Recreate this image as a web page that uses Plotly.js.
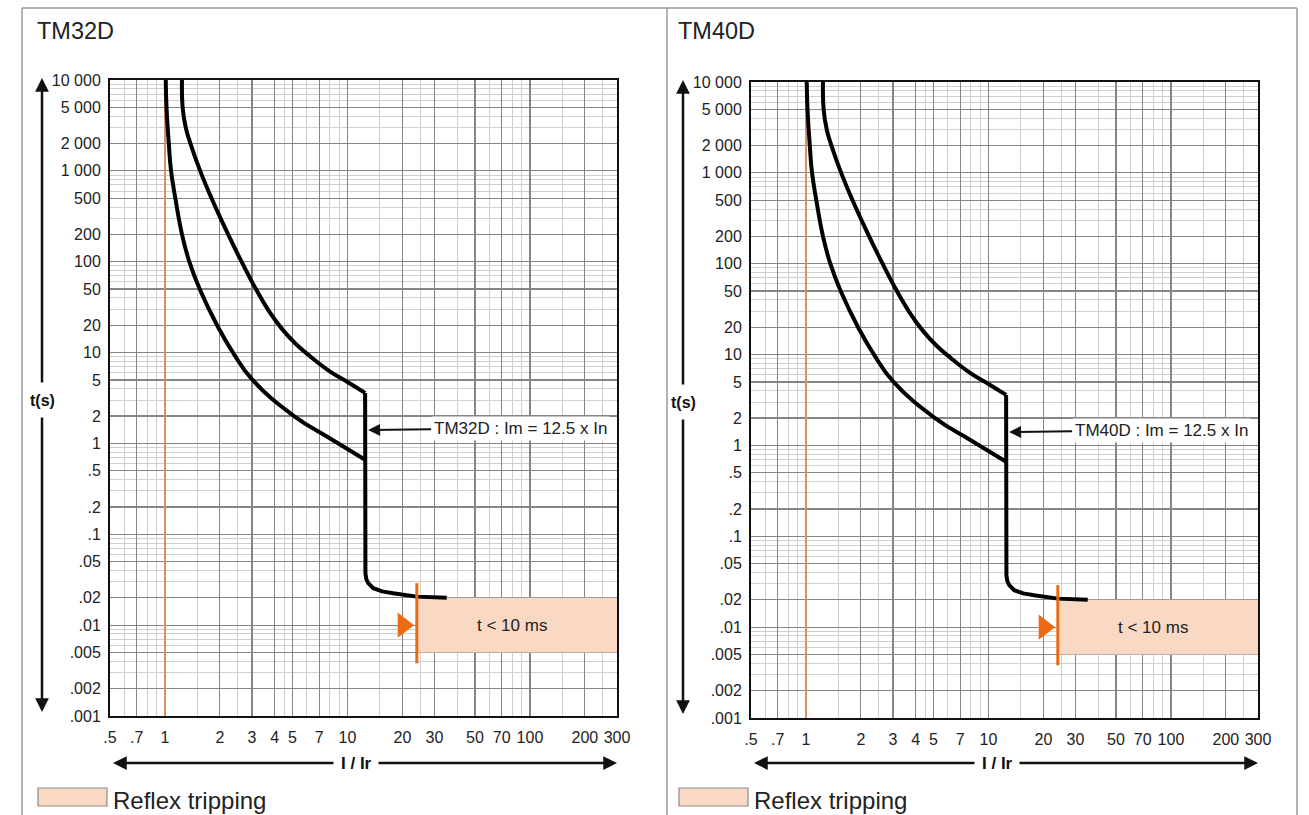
<!DOCTYPE html>
<html><head><meta charset="utf-8">
<script src="https://cdn.plot.ly/plotly-3.0.1.min.js"></script>
<style>body{margin:0;background:#fff}#chart{width:1309px;height:815px}</style>
</head><body><div id="chart"></div>
<script>
// ---- data ----
const panelNames = ['TM32D', 'TM40D'];
const imLabels = ['TM32D : Im = 12.5 x In', 'TM40D : Im = 12.5 x In'];
const imValue = 12.5;          // Im / Ir
const imArrowY = 1.4;          // s, where the label arrow points
const xTickVals = [0.5, 0.7, 1, 2, 3, 4, 5, 7, 10, 20, 30, 50, 70, 100, 200, 300];
const xTickText = ['.5', '.7', '1', '2', '3', '4', '5', '7', '10', '20', '30', '50', '70', '100', '200', '300'];
const xMinorVals = [0.6, 0.8, 0.9, 1.5, 2.5, 4.5, 6, 8, 9, 15, 25, 40, 60, 80, 90, 150, 250];
const yTickVals = [10000, 5000, 2000, 1000, 500, 200, 100, 50, 20, 10, 5, 2, 1, 0.5, 0.2, 0.1, 0.05, 0.02, 0.01, 0.005, 0.002, 0.001];
const yTickText = ['10 000', '5 000', '2 000', '1 000', '500', '200', '100', '50', '20', '10', '5', '2', '1', '.5', '.2', '.1', '.05', '.02', '.01', '.005', '.002', '.001'];
const yMinorVals = [9000, 8000, 7000, 6000, 4000, 3000, 900, 800, 700, 600, 400, 300, 90, 80, 70, 60, 40, 30,
  9, 8, 7, 6, 4, 3, 0.9, 0.8, 0.7, 0.6, 0.4, 0.3, 0.09, 0.08, 0.07, 0.06, 0.04, 0.03,
  0.009, 0.008, 0.007, 0.006, 0.004, 0.003];
// thermal curves (I/Ir, seconds)
const upperX = [1.24, 1.25, 1.30, 1.38, 1.56, 1.8, 2.22, 2.63, 3.15, 3.7, 4.4, 5.2, 6.2, 8.0, 10.0, 12.5];
const upperY = [10000, 5000, 3000, 2000, 1000, 500, 200, 100, 50, 29, 18, 12.5, 9.2, 6.2, 4.75, 3.6];
const lowerX = [1.01, 1.02, 1.05, 1.08, 1.14, 1.24, 1.36, 1.55, 1.93, 2.36, 3.02, 5.1, 8.0, 12.5];
const lowerY = [10000, 5000, 2000, 1000, 500, 200, 100, 50, 20, 10, 5, 2, 1.14, 0.66];
// instantaneous (magnetic) part
const instX = [12.5, 12.5, 12.55, 12.7, 13.0, 13.86, 15.5, 17.8, 24, 35];
const instY = [3.6, 0.045, 0.037, 0.032, 0.029, 0.0255, 0.0235, 0.0224, 0.0206, 0.02];
// Ir reference line
const irLineX = [1, 1];
const irLineY = [0.001, 10000];
// reflex tripping zone
const reflexX = [24, 300];
const reflexY = [0.005, 0.02];
const reflexMarkY = [0.0038, 0.029];
const reflexArrowX = [20.2];
const reflexArrowY = [0.01];
const reflexLabel = 't < 10 ms';
const reflexLabelX = 80;
const reflexLabelY = 0.0098;
const legendLabel = 'Reflex tripping';

// ---- layout helpers ----
const W = 1309, H = 815;
const FONT = '"Liberation Sans", Arial, Helvetica, sans-serif';
const px = v => v / W, py = v => 1 - v / H;
const PEACH = '#FAD9C4', ORANGE = '#EB6A12', IRORANGE = '#F0935A';
const P = [
  {l: 110, r: 617, t: 80, b: 716, dx: 0, dy: 0},
  {l: 751, r: 1258, t: 82, b: 718, dx: 641, dy: 2}
];

const data = [];
const layout = {
  width: W, height: H, margin: {l: 0, r: 0, t: 0, b: 0},
  paper_bgcolor: '#fff', plot_bgcolor: '#fff', showlegend: false,
  font: {family: FONT, color: '#222'},
  shapes: [], annotations: []
};

P.forEach((p, i) => {
  const sx = i === 0 ? '' : '2';
  const xa = 'x' + sx, ya = 'y' + sx;
  layout['xaxis' + sx] = {
    type: 'log', domain: [px(p.l), px(p.r)], anchor: ya,
    range: [Math.log10(0.5), Math.log10(300)],
    tickmode: 'array', tickvals: xTickVals, ticktext: xTickText,
    showgrid: true, gridcolor: '#858585', gridwidth: 1.2,
    minor: {tickmode: 'array', tickvals: xMinorVals, showgrid: true, gridcolor: '#cfcfcf', gridwidth: 1, ticks: ''},
    showline: true, linecolor: '#111', linewidth: 2, mirror: true,
    ticks: '', zeroline: false, ticklabelstandoff: 6,
    tickfont: {size: 16, color: '#222', family: FONT}, fixedrange: true
  };
  layout['yaxis' + sx] = {
    type: 'log', domain: [py(p.b), py(p.t)], anchor: xa,
    range: [-3, 4],
    tickmode: 'array', tickvals: yTickVals, ticktext: yTickText,
    showgrid: true, gridcolor: '#858585', gridwidth: 1.2,
    minor: {tickmode: 'array', tickvals: yMinorVals, showgrid: true, gridcolor: '#cfcfcf', gridwidth: 1, ticks: ''},
    showline: true, linecolor: '#111', linewidth: 2, mirror: true,
    ticks: '', zeroline: false, ticklabelstandoff: 4,
    tickfont: {size: 16, color: '#222', family: FONT}, fixedrange: true
  };

  // reflex zone box
  data.push({
    x: [reflexX[0], reflexX[1], reflexX[1], reflexX[0], reflexX[0]],
    y: [reflexY[0], reflexY[0], reflexY[1], reflexY[1], reflexY[0]],
    xaxis: xa, yaxis: ya, mode: 'lines', fill: 'toself', fillcolor: PEACH,
    line: {width: 0, color: PEACH}, hoverinfo: 'skip'
  });
  // Ir line
  data.push({x: irLineX, y: irLineY, xaxis: xa, yaxis: ya, mode: 'lines',
    line: {color: IRORANGE, width: 1.6}, hoverinfo: 'skip'});
  // curves
  data.push({x: lowerX, y: lowerY, xaxis: xa, yaxis: ya, mode: 'lines',
    line: {color: '#000', width: 4, shape: 'spline', smoothing: 1.3}, hoverinfo: 'skip'});
  data.push({x: upperX, y: upperY, xaxis: xa, yaxis: ya, mode: 'lines',
    line: {color: '#000', width: 4, shape: 'spline', smoothing: 1.3}, hoverinfo: 'skip'});
  data.push({x: instX, y: instY, xaxis: xa, yaxis: ya, mode: 'lines',
    line: {color: '#000', width: 4}, hoverinfo: 'skip'});
  // reflex mark line + arrow
  data.push({x: [reflexX[0], reflexX[0]], y: reflexMarkY, xaxis: xa, yaxis: ya, mode: 'lines',
    line: {color: ORANGE, width: 3}, hoverinfo: 'skip'});
  data.push({x: reflexArrowX, y: reflexArrowY, xaxis: xa, yaxis: ya, mode: 'markers',
    marker: {symbol: 'triangle-right', size: 22, color: ORANGE, line: {width: 0}}, hoverinfo: 'skip'});

  // annotations in data coords
  layout.annotations.push({
    xref: xa, yref: ya, x: Math.log10(reflexLabelX), y: Math.log10(reflexLabelY),
    xanchor: 'center', yanchor: 'middle',
    text: reflexLabel, showarrow: false, font: {size: 17, color: '#222'}
  });
  layout.annotations.push({
    xref: xa, yref: ya, x: Math.log10(imValue), y: Math.log10(imArrowY),
    text: imLabels[i], showarrow: true, ax: 155, ay: -2,
    arrowhead: 2, arrowsize: 1.2, arrowwidth: 2, arrowcolor: '#111', standoff: 3,
    bgcolor: '#fff', borderpad: 2, font: {size: 17, color: '#222'}
  });

  // panel title
  layout.annotations.push({xref: 'paper', yref: 'paper', x: px(35 + p.dx), y: py(31),
    xanchor: 'left', yanchor: 'middle', text: panelNames[i], showarrow: false,
    font: {size: 23.5, color: '#222'}});

  // y axis arrow
  const yax = 42 + p.dx;
  layout.annotations.push({xref: 'paper', yref: 'paper', x: px(yax), y: py(78 + p.dy), text: '',
    showarrow: true, ax: 0, ay: 306, arrowhead: 2, arrowsize: 1.1, arrowwidth: 2.5, arrowcolor: '#111'});
  layout.annotations.push({xref: 'paper', yref: 'paper', x: px(yax), y: py(712 + p.dy), text: '',
    showarrow: true, ax: 0, ay: -296, arrowhead: 2, arrowsize: 1.1, arrowwidth: 2.5, arrowcolor: '#111'});
  layout.annotations.push({xref: 'paper', yref: 'paper', x: px(yax), y: py(400 + p.dy), text: '<b>t(s)</b>',
    xanchor: 'center', yanchor: 'middle', showarrow: false, font: {size: 16, color: '#111'}});

  // x axis arrow
  const xcy = 763;
  const xmid = 356 + p.dx;
  layout.annotations.push({xref: 'paper', yref: 'paper', x: px(113 + p.dx), y: py(xcy), text: '',
    showarrow: true, ax: xmid - 21 - (113 + p.dx), ay: 0, arrowhead: 2, arrowsize: 1.1, arrowwidth: 2.5, arrowcolor: '#111'});
  layout.annotations.push({xref: 'paper', yref: 'paper', x: px(617 + p.dx), y: py(xcy), text: '',
    showarrow: true, ax: xmid + 21 - (617 + p.dx), ay: 0, arrowhead: 2, arrowsize: 1.1, arrowwidth: 2.5, arrowcolor: '#111'});
  layout.annotations.push({xref: 'paper', yref: 'paper', x: px(xmid), y: py(xcy), text: '<b>I / Ir</b>',
    xanchor: 'center', yanchor: 'middle', showarrow: false, font: {size: 17, color: '#111'}});

  // legend swatch + label
  layout.shapes.push({type: 'rect', xref: 'paper', yref: 'paper',
    x0: px(38 + p.dx), x1: px(107 + p.dx), y0: py(806), y1: py(788),
    fillcolor: PEACH, line: {color: '#8a8a8a', width: 1.2}});
  layout.annotations.push({xref: 'paper', yref: 'paper', x: px(111 + p.dx), y: py(800),
    xanchor: 'left', yanchor: 'middle', text: legendLabel, showarrow: false,
    font: {size: 24, color: '#222'}});
});

// outer frame and divider
layout.shapes.push({type: 'line', xref: 'paper', yref: 'paper', x0: px(22), x1: px(1297), y0: py(8), y1: py(8),
  line: {color: '#9a9a9a', width: 1.5}});
[22, 667, 1297].forEach(xv => layout.shapes.push({type: 'line', xref: 'paper', yref: 'paper',
  x0: px(xv), x1: px(xv), y0: py(8), y1: py(830), line: {color: '#9a9a9a', width: 1.5}}));

Plotly.newPlot('chart', data, layout, {staticPlot: true, displayModeBar: false});
</script>
</body></html>
